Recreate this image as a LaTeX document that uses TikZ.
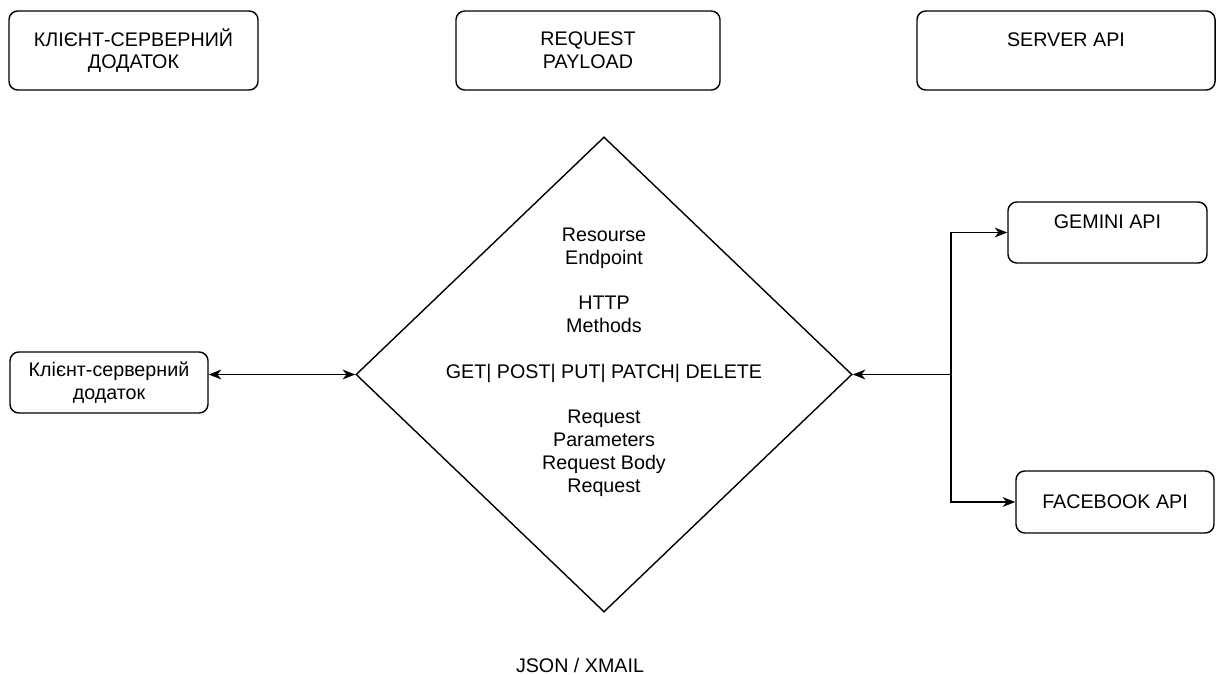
\documentclass[tikz,border=0pt]{standalone}
\usepackage{fontspec}
\setmainfont{Liberation Sans}
\usepackage{tikz}
\usetikzlibrary{positioning, calc, shapes.geometric, arrows.meta}

\begin{document}
\begin{tikzpicture}[x=0.025cm, y=-0.025cm, line width=1pt, >={Stealth[length=9pt, width=7pt, inset=2.8pt]},
    font=\fontsize{14}{16.2}\selectfont]
        % Define block styles
        \tikzstyle{block} = [rectangle, draw, rounded corners=0.22cm, align=center, inner sep=0pt]
        \tikzstyle{topline} = [text depth=16pt]

        \useasboundingbox (0,0) rectangle (1218,675);

        % Place nodes
        \node [block, minimum width=6.225cm, minimum height=1.975cm] (client_title) at (133.5,50.5) {КЛІЄНТ-СЕРВЕРНИЙ\\ДОДАТОК};
        \node [block, minimum width=6.6cm, minimum height=1.975cm] (payload_title) at (588,50.5) {REQUEST\\PAYLOAD};
        \node [block, topline, minimum width=7.45cm, minimum height=1.975cm] (server_title) at (1066,50.5) {SERVER API};

        \node [diamond, draw, minimum width=12.4cm, minimum height=11.875cm, inner sep=0pt] (payload) at (604,374.5) {};
        \node [align=center] (fields) at (604,362) {Resourse\\Endpoint\\[16.2pt]HTTP\\Methods\\[16.2pt]GET| POST| PUT| PATCH| DELETE\\[16.2pt]Request\\Parameters\\Request Body\\Request};

        \node [block, minimum width=4.95cm, minimum height=1.525cm] (client) at (109,382.5) {Клієнт-серверний\\додаток};
        \node [block, topline, minimum width=4.975cm, minimum height=1.525cm] (gemini) at (1107.5,232.5) {GEMINI API};
        \node [block, minimum width=4.95cm, minimum height=1.55cm] (facebook) at (1115,502) {FACEBOOK API};

        \node (format) at (580,665) {JSON / XMAIL};

        \coordinate (split) at (951,374.5);

        % Draw connections as arrows
        \draw [<->] (client.east |- payload.west) -- (payload.west);
        \draw [->] (split) -- (payload.east);
        \draw [->] (split) |- (gemini.west);
        \draw [->] (split) |- (facebook.west);
    \end{tikzpicture}
\end{document}
